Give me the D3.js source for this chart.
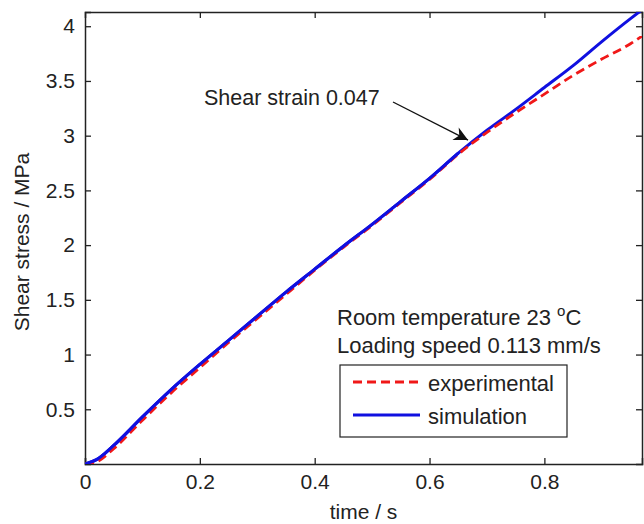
<!DOCTYPE html>
<html>
<head>
<meta charset="utf-8">
<script src="https://cdn.jsdelivr.net/npm/d3@7"></script>
<style>
  body { margin: 0; background: #fff; }
  svg text { font-family: "Liberation Sans", Arial, sans-serif; fill: #222; }
</style>
</head>
<body>
<svg id="chart" width="644" height="524"></svg>
<script>
'use strict';

// values
var timeValues = [0, 0.02, 0.05, 0.1, 0.15, 0.2, 0.25, 0.3, 0.35, 0.4, 0.45, 0.5,
                  0.55, 0.6, 0.65, 0.7, 0.75, 0.8, 0.85, 0.9, 0.95, 0.97];
var simulationValues = [0, 0.04, 0.17, 0.43, 0.68, 0.91, 1.13, 1.35, 1.57, 1.78, 1.99, 2.19,
                        2.40, 2.61, 2.84, 3.05, 3.24, 3.44, 3.64, 3.86, 4.07, 4.15];
var experimentalValues = [0, 0.02, 0.14, 0.40, 0.65, 0.88, 1.11, 1.33, 1.55, 1.77, 1.98, 2.18,
                          2.39, 2.60, 2.83, 3.03, 3.21, 3.38, 3.55, 3.70, 3.84, 3.91];
var xTicks = [0, 0.2, 0.4, 0.6, 0.8];
var yTicks = [0.5, 1, 1.5, 2, 2.5, 3, 3.5, 4];
var legendLabels = ['experimental', 'simulation'];

var svg = d3.select('#chart');
var plotLeft = 85, plotRight = 642, plotTop = 12, plotBottom = 464;

var x = d3.scaleLinear().domain([0, 0.97]).range([plotLeft, plotRight]);
var y = d3.scaleLinear().domain([0, 4.13]).range([plotBottom, plotTop]);

var defs = svg.append('defs');
defs.append('clipPath').attr('id', 'plotClip')
    .append('rect')
        .attr('x', plotLeft).attr('y', plotTop)
        .attr('width', plotRight - plotLeft).attr('height', plotBottom - plotTop);

// axes box with inward ticks on all four sides
function tickLabel(d) { return d === 0 ? '0' : String(d); }

var axisBottom = d3.axisBottom(x).tickValues(xTicks).tickSize(-6).tickPadding(10).tickFormat(tickLabel);
var axisTop = d3.axisTop(x).tickValues([0.2, 0.4, 0.6, 0.8]).tickSize(-6).tickFormat('');
var axisLeft = d3.axisLeft(y).tickValues(yTicks).tickSize(-6).tickPadding(10).tickFormat(tickLabel);
var axisRight = d3.axisRight(y).tickValues(yTicks).tickSize(-6).tickFormat('');

function styleAxis(g) {
    g.select('.domain').attr('stroke', '#222').attr('stroke-width', 1.5);
    g.selectAll('.tick line').attr('stroke', '#222').attr('stroke-width', 1.3);
    g.selectAll('.tick text').attr('font-size', 21).attr('fill', '#222');
}

svg.append('g').attr('transform', 'translate(0,' + plotBottom + ')').call(axisBottom).call(styleAxis);
svg.append('g').attr('transform', 'translate(0,' + plotTop + ')').call(axisTop).call(styleAxis);
svg.append('g').attr('transform', 'translate(' + plotLeft + ',0)').call(axisLeft).call(styleAxis);
svg.append('g').attr('transform', 'translate(' + plotRight + ',0)').call(axisRight).call(styleAxis);

// curves
var expData = timeValues.map(function(t, i) { return [t, experimentalValues[i]]; });
var simData = timeValues.map(function(t, i) { return [t, simulationValues[i]]; });
var line = d3.line()
    .x(function(d) { return x(d[0]); })
    .y(function(d) { return y(d[1]); })
    .curve(d3.curveMonotoneX);

var plot = svg.append('g').attr('clip-path', 'url(#plotClip)');
plot.append('path').datum(simData)
    .attr('d', line).attr('fill', 'none')
    .attr('stroke', '#1010e0').attr('stroke-width', 3);
plot.append('path').datum(expData)
    .attr('d', line).attr('fill', 'none')
    .attr('stroke', '#f01818').attr('stroke-width', 2.8)
    .attr('stroke-dasharray', '9,5');
// blue is drawn over red in the lower part
plot.append('path').datum(simData.filter(function(d) { return d[0] <= 0.66; }))
    .attr('d', line).attr('fill', 'none')
    .attr('stroke', '#1010e0').attr('stroke-width', 3);

// axis titles
svg.append('text')
    .attr('x', (plotLeft + plotRight) / 2).attr('y', 519)
    .attr('text-anchor', 'middle').attr('font-size', 21)
    .text('time / s');
svg.append('text')
    .attr('transform', 'translate(29,242) rotate(-90)')
    .attr('text-anchor', 'middle').attr('font-size', 21)
    .text('Shear stress / MPa');

// annotation with arrow
defs.append('marker')
    .attr('id', 'arrowHead')
    .attr('viewBox', '0 0 10 10')
    .attr('refX', 10).attr('refY', 5)
    .attr('markerWidth', 19).attr('markerHeight', 14)
    .attr('markerUnits', 'userSpaceOnUse')
    .attr('orient', 'auto')
    .append('path')
        .attr('d', 'M0,0 L10,5 L0,10 L3,5 Z')
        .attr('fill', '#111');

svg.append('text')
    .attr('x', 204).attr('y', 105)
    .attr('font-size', 21.5)
    .text('Shear strain 0.047');
svg.append('line')
    .attr('x1', 393).attr('y1', 102)
    .attr('x2', x(0.667)).attr('y2', y(2.96))
    .attr('stroke', '#111').attr('stroke-width', 1.4)
    .attr('marker-end', 'url(#arrowHead)');

// conditions text
var cond = svg.append('text').attr('x', 337).attr('y', 325).attr('font-size', 22);
cond.append('tspan').text('Room temperature 23 ');
cond.append('tspan').attr('font-size', 15).attr('dy', -9).text('o');
cond.append('tspan').attr('dy', 9).text('C');
svg.append('text')
    .attr('x', 337).attr('y', 353).attr('font-size', 22)
    .text('Loading speed 0.113 mm/s');

// legend
var legend = svg.append('g').attr('transform', 'translate(340,365)');
legend.append('rect')
    .attr('width', 227).attr('height', 72)
    .attr('fill', '#fff').attr('stroke', '#222').attr('stroke-width', 1.2);
var legendStyles = [
    { color: '#f01818', dash: '9,5' },
    { color: '#1010e0', dash: null }
];
legendLabels.forEach(function(label, i) {
    var yy = 17 + i * 33;
    legend.append('line')
        .attr('x1', 13).attr('x2', 80).attr('y1', yy).attr('y2', yy)
        .attr('stroke', legendStyles[i].color).attr('stroke-width', 2.8)
        .attr('stroke-dasharray', legendStyles[i].dash);
    legend.append('text')
        .attr('x', 88).attr('y', yy + 9).attr('font-size', 22)
        .text(label);
});
</script>
</body>
</html>
